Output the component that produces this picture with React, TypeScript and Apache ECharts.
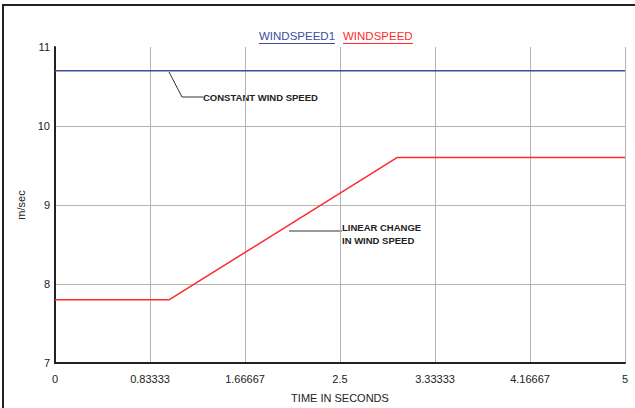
import React, { useEffect, useRef } from "react";
import * as echarts from "echarts";

const xTickLabels = ["0", "0.83333", "1.66667", "2.5", "3.33333", "4.16667", "5"];
const windspeed1Time = [0, 5];
const windspeed1Values = [10.7, 10.7];
const windspeedTime = [0, 1, 3, 5];
const windspeedValues = [7.8, 7.8, 9.6, 9.6];
const seriesNames = ["WINDSPEED1", "WINDSPEED"];
const seriesColors = ["#3c4ea0", "#ff2b2b"];

export default function App() {
  const ref = useRef<HTMLDivElement>(null);
  useEffect(() => {
    document.body.style.margin = "0";
    const chart = echarts.init(ref.current!, null, { renderer: "svg" });
    const font = "'Liberation Sans', Arial, sans-serif";
    const step = 5 / 6;
    chart.setOption({
      animation: false,
      backgroundColor: "#ffffff",
      grid: { left: 55, right: 10, top: 47, bottom: 44 },
      xAxis: {
        type: "value",
        min: 0,
        max: 5,
        interval: step,
        name: "TIME IN SECONDS",
        nameLocation: "middle",
        nameGap: 29,
        nameTextStyle: { fontFamily: font, fontSize: 11, color: "#222" },
        axisLine: { show: true, lineStyle: { color: "#222", width: 2 } },
        axisTick: { show: false },
        axisLabel: {
          fontFamily: font,
          fontSize: 11,
          color: "#222",
          margin: 10,
          formatter: (v: number) => xTickLabels[Math.round(v / step)] ?? "",
        },
        splitLine: { show: true, lineStyle: { color: "#b4b4b4", width: 1 } },
      },
      yAxis: {
        type: "value",
        min: 7,
        max: 11,
        interval: 1,
        name: "m/sec",
        nameLocation: "middle",
        nameGap: 27,
        nameRotate: 90,
        nameTextStyle: { fontFamily: font, fontSize: 11, color: "#222" },
        axisLine: { show: true, lineStyle: { color: "#222", width: 2 } },
        axisTick: { show: false },
        axisLabel: { fontFamily: font, fontSize: 11, color: "#222", margin: 5 },
        splitLine: {
          show: true,
          lineStyle: { color: ["#b4b4b4", "#b4b4b4", "#b4b4b4", "#b4b4b4", "transparent"], width: 1 },
        },
      },
      series: [
        {
          name: seriesNames[0],
          type: "line",
          data: windspeed1Time.map((t, i) => [t, windspeed1Values[i]]),
          showSymbol: false,
          symbol: "none",
          lineStyle: { color: seriesColors[0], width: 1.5 },
          itemStyle: { color: seriesColors[0] },
        },
        {
          name: seriesNames[1],
          type: "line",
          data: windspeedTime.map((t, i) => [t, windspeedValues[i]]),
          showSymbol: false,
          symbol: "none",
          lineStyle: { color: seriesColors[1], width: 1.5 },
          itemStyle: { color: seriesColors[1] },
        },
      ],
      graphic: [
        // outer frame
        { type: "line", shape: { x1: 2, y1: 5, x2: 635, y2: 5 }, style: { stroke: "#222", lineWidth: 2 } },
        { type: "line", shape: { x1: 3, y1: 5, x2: 3, y2: 408 }, style: { stroke: "#222", lineWidth: 2 } },
        // legend
        {
          type: "text",
          x: 259,
          y: 36,
          style: { text: seriesNames[0], fontFamily: font, fontSize: 11.5, fill: seriesColors[0], verticalAlign: "middle" },
        },
        {
          type: "text",
          x: 343,
          y: 36,
          style: { text: seriesNames[1], fontFamily: font, fontSize: 11.5, fill: seriesColors[1], verticalAlign: "middle" },
        },
        { type: "line", shape: { x1: 259, y1: 43.5, x2: 335, y2: 43.5 }, style: { stroke: seriesColors[0], lineWidth: 1.2 } },
        { type: "line", shape: { x1: 343, y1: 43.5, x2: 413, y2: 43.5 }, style: { stroke: seriesColors[1], lineWidth: 1.2 } },
        // annotations
        {
          type: "polyline",
          shape: { points: [[169, 72], [182, 97], [203, 97]] },
          style: { stroke: "#333", lineWidth: 1, fill: "none" },
        },
        {
          type: "text",
          x: 203,
          y: 97,
          style: { text: "CONSTANT WIND SPEED", fontFamily: font, fontSize: 9.5, fontWeight: "bold", fill: "#222", verticalAlign: "middle" },
        },
        { type: "line", shape: { x1: 289, y1: 231, x2: 342, y2: 231 }, style: { stroke: "#333", lineWidth: 1 } },
        {
          type: "text",
          x: 342,
          y: 221,
          style: {
            text: "LINEAR CHANGE\nIN WIND SPEED",
            fontFamily: font,
            fontSize: 9.5,
            fontWeight: "bold",
            fill: "#222",
            lineHeight: 13,
            verticalAlign: "top",
          },
        },
      ],
    });
    return () => chart.dispose();
  }, []);
  return <div ref={ref} style={{ width: 635, height: 408 }} />;
}
